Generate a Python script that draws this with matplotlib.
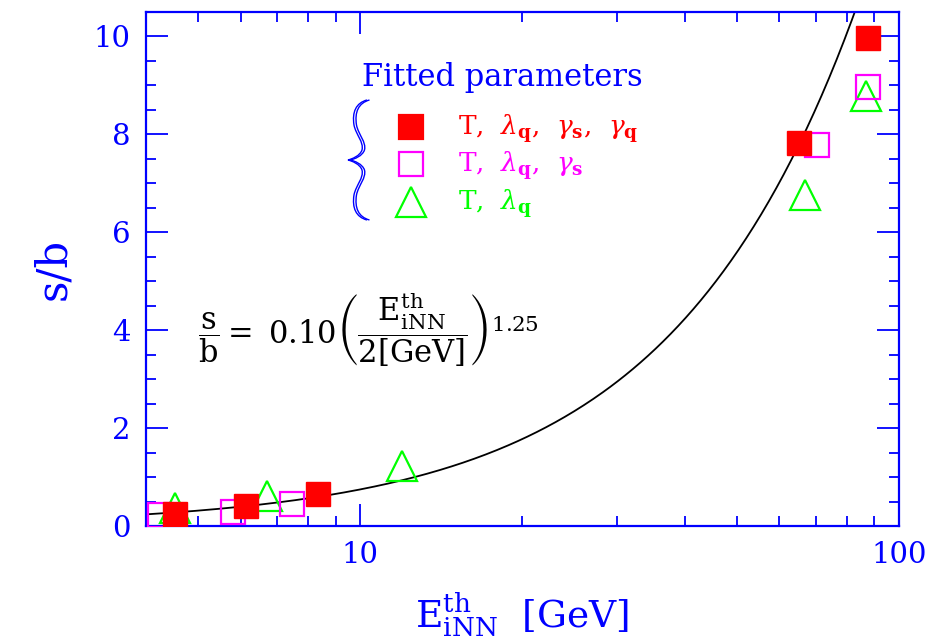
import numpy as np
import matplotlib
matplotlib.use("Agg")
import matplotlib.pyplot as plt
from matplotlib.path import Path
from matplotlib.patches import PathPatch
from matplotlib.ticker import FixedLocator, FixedFormatter, MultipleLocator

plt.rcParams['font.family'] = ['DejaVu Serif']
plt.rcParams['mathtext.fontset'] = 'dejavuserif'

BLUE = '#0000ff'

# data
e_full = [4.52, 6.13, 8.35, 65.1, 87.5]       # T, lambda_q, gamma_s, gamma_q
sb_full = [0.25, 0.41, 0.65, 7.83, 9.96]
e_three = [4.25, 5.80, 7.47, 70.3, 87.7]      # T, lambda_q, gamma_s
sb_three = [0.22, 0.29, 0.45, 7.79, 8.96]
e_two = [4.52, 6.71, 11.97, 66.8, 86.8]       # T, lambda_q
sb_two = [0.36, 0.61, 1.23, 6.77, 8.79]

# fitted curve s/b = A (E/2)^p
fit_amp = 0.10
fit_pow = 1.25

fig = plt.figure(figsize=(9.34, 6.41), dpi=100)
ax = fig.add_axes([0.1563, 0.1794, 0.8062, 0.8019])

E = np.logspace(np.log10(4), np.log10(100), 400)
ax.plot(E, fit_amp * (E / 2.0) ** fit_pow, color='black', lw=1.3, zorder=2)

ax.plot(e_two, sb_two, ls='none', marker='^', ms=21, mfc='none', mec='#00ff00', mew=1.6, zorder=3)
ax.plot(e_three, sb_three, ls='none', marker='s', ms=17, mfc='none', mec='#ff00ff', mew=1.6, zorder=4)
ax.plot(e_full, sb_full, ls='none', marker='s', ms=17, mfc='#ff0000', mec='#ff0000', zorder=5)

ax.set_xscale('log')
ax.set_xlim(4, 100)
ax.set_ylim(0, 10.5)

ax.xaxis.set_major_locator(FixedLocator([10, 100]))
ax.xaxis.set_major_formatter(FixedFormatter(['10', '100']))
ax.xaxis.set_minor_locator(FixedLocator([4, 5, 6, 7, 8, 9, 20, 30, 40, 50, 60, 70, 80, 90]))
ax.xaxis.set_minor_formatter(FixedFormatter([]))
ax.yaxis.set_major_locator(MultipleLocator(2))
ax.yaxis.set_minor_locator(MultipleLocator(0.5))

for s in ax.spines.values():
    s.set_color(BLUE)
    s.set_linewidth(1.6)
ax.tick_params(which='both', direction='in', top=True, right=True, color=BLUE,
               width=1.3, labelcolor=BLUE, labelsize=21)
ax.tick_params(which='major', length=16, pad=11)
ax.tick_params(which='minor', length=7.5)

ax.set_xlabel(r'$\mathrm{E^{th}_{iNN}}$  [GeV]', color=BLUE, fontsize=27, labelpad=15)
ax.set_ylabel('s/b', color=BLUE, fontsize=30, labelpad=14)

# legend block
def px(x, y):
    return ((x - 146) / (899 - 146), (526 - y) / (526 - 12))

ax.text(*px(362, 78), 'Fitted parameters', transform=ax.transAxes, color=BLUE,
        fontsize=22, va='center', ha='left')

rows = [(127, 's', '#ff0000', True, r'T,  $\lambda_{\mathbf{q}}$,  $\gamma_{\mathbf{s}}$,  $\gamma_{\mathbf{q}}$'),
        (164, 's', '#ff00ff', False, r'T,  $\lambda_{\mathbf{q}}$,  $\gamma_{\mathbf{s}}$'),
        (202, '^', '#00ff00', False, r'T,  $\lambda_{\mathbf{q}}$')]
for yy, mk, col, filled, label in rows:
    mx, my = px(411, yy)
    ax.plot([mx], [my], transform=ax.transAxes, marker=mk, ms=17 if mk == 's' else 21,
            mfc=col if filled else 'none', mec=col, mew=1.6, ls='none', clip_on=False)
    ax.text(*px(458, yy + 2), label, transform=ax.transAxes, color=col, fontsize=19,
            va='center', ha='left')

# curly brace (double line)
brace = [(367, 100), (356, 103), (352, 112), (354, 125),
         (356, 135), (364, 142), (362, 150),
         (360, 156), (352, 159), (348, 160),
         (352, 161), (360, 164), (362, 170),
         (364, 178), (356, 185), (354, 195),
         (352, 208), (356, 217), (367, 220)]
codes = [Path.MOVETO] + [Path.CURVE4] * (len(brace) - 1)
for dx in (0, 2.5):
    verts = [px(x + dx, y) for x, y in brace]
    ax.add_patch(PathPatch(Path(verts, codes), transform=ax.transAxes, fill=False,
                           edgecolor=BLUE, lw=1.0, clip_on=False))

ax.text(*px(198, 330),
        r'$\dfrac{\mathrm{s}}{\mathrm{b}}=\ 0.10\left(\dfrac{\mathrm{E^{th}_{iNN}}}{2[\mathrm{GeV}]}\right)^{1.25}$',
        transform=ax.transAxes, color='black', fontsize=22, va='center', ha='left')

fig.savefig('out.png', dpi=100)
